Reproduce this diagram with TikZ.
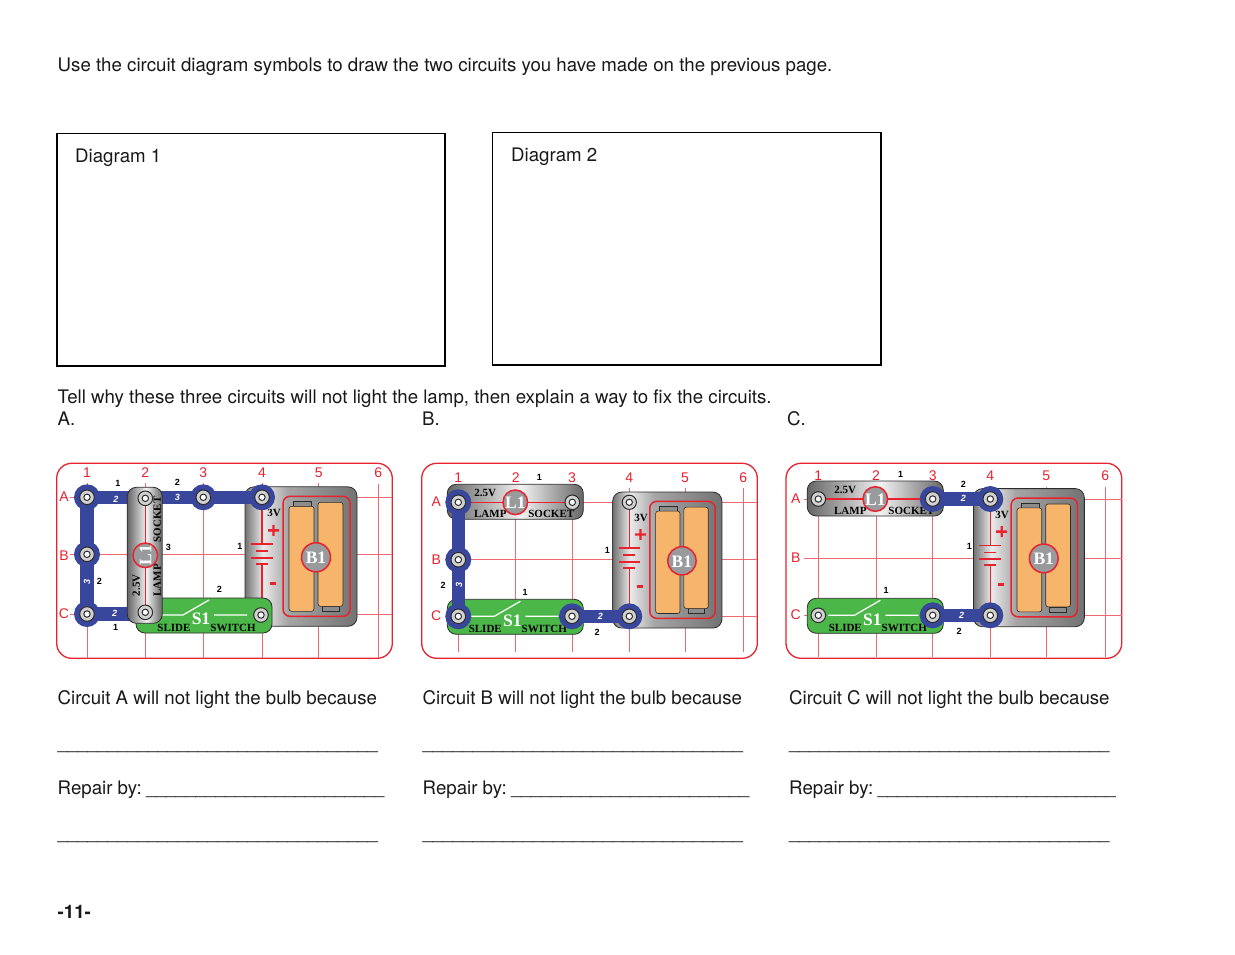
\documentclass[tikz,border=0pt]{standalone}
\usepackage{fontspec}
\setmainfont{TeX Gyre Heros}
\newfontfamily\serifb{Liberation Serif}[BoldFont={Liberation Serif Bold}]
\newfontfamily\sansb{Liberation Sans}
\definecolor{cred}{HTML}{E8222F}
\definecolor{gridred}{HTML}{EE6A72}
\definecolor{cblue}{HTML}{38469B}
\definecolor{cgreen}{HTML}{4BB748}
\definecolor{corange}{HTML}{F6B56A}
\definecolor{cgray}{HTML}{999A9C}
\definecolor{cedge}{HTML}{2B2B2B}
\pgfdeclarehorizontalshading{battshade}{100bp}{color(0bp)=(black!55);color(25bp)=(black!55);color(33bp)=(black!8);color(44bp)=(black!35);color(75bp)=(black!55);color(100bp)=(black!55)}
\pgfdeclarehorizontalshading{lampshade}{100bp}{color(0bp)=(black!60);color(25bp)=(black!60);color(52bp)=(black!5);color(75bp)=(black!60);color(100bp)=(black!60)}
\newcommand\usc[1]{{\fontsize{18}{20}\selectfont\foreach \i in {1,...,#1}{\_}}}
\newcommand\uscs{{\fontsize{17.85}{20}\selectfont\foreach \i in {1,...,24}{\_}}}
\tikzset{
  body/.style={anchor=base west,inner sep=0pt,font=\fontsize{18.68}{20}\selectfont,text=black!90},
  redlab/.style={inner sep=0pt,text=cred,font=\fontsize{14}{14}\selectfont\sansb},
  blklab/.style={inner sep=0pt,font=\fontsize{9}{9}\selectfont\sansb\bfseries},
  whtlab/.style={inner sep=0pt,text=white,font=\fontsize{9}{9}\selectfont\sansb\bfseries\itshape},
  serlab/.style={inner sep=0pt,font=\fontsize{11}{11}\selectfont\serifb\bfseries},
  bigser/.style={inner sep=0pt,text=white,font=\fontsize{17.5}{17.5}\selectfont\serifb\bfseries},
  gridline/.style={gridred,line width=1pt},
  frameline/.style={cred,line width=1.3pt,rounded corners=15pt},
  bluebar/.style={cblue,line width=13.5pt},
  boxline/.style={black,line width=1.3pt}
}
\newcommand\stud[2]{%
  \filldraw[fill=black!18,draw=cedge,line width=1pt] (#1,#2) circle (7.3);
  \filldraw[fill=white,draw=cedge,line width=1pt] (#1,#2) circle (3.2);}
\newcommand\snap[2]{%
  \fill[cblue] (#1,#2) circle (13);
  \stud{#1}{#2}}
% battery: #2,#3 = top terminal, #1 = scale
\newcommand\batt[3][1]{%
  \begin{scope}[shift={(#2,#3)},scale=#1]
    \draw[cedge,line width=0.8pt,rounded corners=9pt,shading=battshade] (-17,-10.5) rectangle (95,129);
    \draw[cred,line width=1.4pt] (0,0) -- (0,47) (0,67) -- (0,117);
    \draw[cred,line width=1.8pt] (-11,47) -- (11,47) (-6,54) -- (6,54) (-11,61) -- (11,61) (-6,67) -- (6,67);
    \node[serlab] at (12,16) {3V};
    \fill[cred] (6,31.8) rectangle (17,34.2) (10.3,27.5) rectangle (12.7,38.5);
    \fill[cred] (8,85) rectangle (14,87.5);
    \draw[cred,line width=1.5pt,rounded corners=7pt] (21,-1) rectangle (88,119);
    \draw[fill=black!45,draw=cedge,line width=0.6pt] (31,4) rectangle (49,9) (60,109) rectangle (77,114);
    \draw[fill=corange,draw=cedge,line width=0.6pt,rounded corners=2.5pt] (27,9) rectangle (52,114) (56,5) rectangle (81,109);
    \filldraw[fill=cgray,draw=cred,line width=1.5pt] (54,60) circle (14.5);
    \node[bigser] at (54,60.5) {B1};
    \stud{0}{0}
  \end{scope}}
% lamp socket: #1,#2 = first stud, #3 rotation
\newcommand\lamp[3]{%
  \begin{scope}[shift={(#1,#2)},rotate=#3,transform shape]
    \draw[cedge,line width=0.8pt,rounded corners=9pt,shading=lampshade] (-11,-18) rectangle (125,17);
    \draw[cred,line width=1.4pt] (0,0) -- (114,0);
    \node[serlab] at (27,-9) {2.5V};
    \node[serlab] at (32,12) {LAMP};
    \node[serlab] at (93,12) {SOCKET};
    \filldraw[fill=cgray,draw=cred,line width=1.5pt] (57,0) circle (12.3);
    \node[bigser] at (57,0.3) {L1};
    \stud{0}{0}
    \stud{114}{0}
  \end{scope}}
% slide switch: #1,#2 = first stud
\newcommand\slideswitch[2]{%
  \begin{scope}[shift={(#1,#2)}]
    \draw[cedge,line width=0.8pt,fill=cgreen,rounded corners=9pt] (-11,-17) rectangle (125,18);
    \draw[white,line width=1.2pt] (10,0) -- (36,0) -- (62,-15) (67,0) -- (100,0);
    \node[serlab] at (27,13) {SLIDE};
    \node[bigser] at (54,4) {S1};
    \node[serlab] at (86,13) {SWITCH};
    \stud{0}{0}
    \stud{114}{0}
  \end{scope}}
\begin{document}
\begin{tikzpicture}[x=1pt,y=-1pt]
\useasboundingbox (0,0) rectangle (1235,954);
\fill[white] (0,0) rectangle (1235,954);
% texts
\node[body] (intro) at (57.5,71) {Use the circuit diagram symbols to draw the two circuits you have made on the previous page.};
\draw[boxline] (57,133.5) rectangle (445,366);
\draw[boxline] (492.5,132.5) rectangle (881,365);
\node[body] (d1) at (75,162) {Diagram 1};
\node[body] (d2) at (511,161) {Diagram 2};
\node[body] (tell) at (57.5,403) {Tell why these three circuits will not light the lamp, then explain a way to fix the circuits.};
\node[body] (la) at (57.5,425) {A.};
\node[body] (lb) at (422,425) {B.};
\node[body] (lc) at (787,425) {C.};
\node[body] (ca) at (57.5,704) {Circuit A will not light the bulb because};
\node[body] (cb) at (422.5,704) {Circuit B will not light the bulb because};
\node[body] (cc) at (789,704) {Circuit C will not light the bulb because};
\foreach \x/\n in {57.5/a,422.5/b,789/c}{
  \node[body] (u1\n) at (\x,749) {\usc{32}};
  \node[body] (r\n) at (\x,794) {Repair by:\hspace{4.2pt}\uscs};
  \node[body] (u2\n) at (\x,839) {\usc{32}};
}
\node[body,font=\fontsize{18.68}{20}\selectfont\bfseries] (page) at (57.5,918) {-11-};
% ---------- panel A
\draw[frameline] (56.7,463.3) rectangle (392.3,658.3);
\foreach \x in {87,145.3,203.3,262,318.7} \draw[gridline] (\x,483) -- (\x,658.3);
\draw[gridline] (378.3,484) -- (378.3,658.3);
\foreach \y in {497.3,554.3,614} \draw[gridline] (70,\y) -- (392.3,\y);
\foreach \x/\t in {87/1,145.3/2,203.3/3,262/4,318.7/5,378.3/6} \node[redlab] at (\x,473) {\t};
\foreach \y/\t in {497/A,556/B,614/C} \node[redlab] at (64,\y) {\t};
\batt{262}{497.3}
\slideswitch{147}{615}
\draw[bluebar] (87,614) -- (87,497.3) -- (262,497.3);
\draw[bluebar] (87,614) -- (145,614);
\snap{87}{497.3}\snap{87}{554.3}\snap{87}{614}\snap{203.3}{497.3}\snap{262}{497.3}
\node[whtlab] at (116,499) {2};
\node[whtlab] at (177.3,497.7) {3};
\node[whtlab,rotate=90] at (87,581.7) {3};
\node[whtlab] at (114.7,613.3) {2};
\lamp{145.3}{612.3}{90}
\foreach \x/\y/\t in {118/483.3/1,177.3/482.3/2,168.3/547.3/3,240/546.7/1,99.3/581.7/2,219.3/589.3/2,115.7/627.7/1} \node[blklab] at (\x,\y) {\t};
% ---------- panel B
\draw[frameline] (421.7,463.3) rectangle (757.3,658.3);
\foreach \x in {458.3,515.7,572,629.3,685,743.3} \draw[gridline] (\x,488) -- (\x,651.7);
\foreach \y in {502.3,559.7,616.3} \draw[gridline] (445,\y) -- (757.3,\y);
\foreach \x/\t in {458.3/1,515.7/2,572/3,629.3/4,685/5,743.3/6} \node[redlab] at (\x,478) {\t};
\foreach \y/\t in {501.7/A,559.7/B,616/C} \node[redlab] at (436.3,\y) {\t};
\lamp{458.3}{502.3}{0}
\slideswitch{458.3}{616.3}
\batt[0.975]{629.3}{502.3}
\draw[bluebar] (458.3,502.3) -- (458.3,616.3);
\draw[bluebar] (572,616.3) -- (629.3,616.3);
\snap{458.3}{502.3}\snap{458.3}{559.7}\snap{458.3}{616.3}\snap{572}{616.3}\snap{629.3}{616.3}
\node[whtlab,rotate=90] at (459,585) {3};
\node[whtlab] at (600.3,616.7) {2};
\foreach \x/\y/\t in {539.3/477.3/1,607.3/550/1,443/585.7/2,525/592.3/1,597/632.7/2} \node[blklab] at (\x,\y) {\t};
% ---------- panel C
\draw[frameline] (786,463.3) rectangle (1121.7,658.3);
\foreach \x in {818.3,876,932.7,990.3,1046.3,1105.3} \draw[gridline] (\x,487) -- (\x,657);
\foreach \y in {499,558.3,615.3} \draw[gridline] (804,\y) -- (1121.7,\y);
\foreach \x/\t in {818.3/1,876/2,932.7/3,990.3/4,1046.3/5,1105.3/6} \node[redlab] at (\x,475.7) {\t};
\foreach \y/\t in {499/A,558/B,615/C} \node[redlab] at (795.7,\y) {\t};
\batt[0.99]{990.3}{499}
\lamp{818.3}{499}{0}
\slideswitch{818.3}{615.3}
\draw[bluebar] (932.7,499) -- (990.3,499);
\draw[bluebar] (932.7,615.3) -- (990.3,615.3);
\snap{932.7}{499}\snap{990.3}{499}\snap{932.7}{615.3}\snap{990.3}{615.3}
\node[whtlab] at (963.3,498.3) {2};
\node[whtlab] at (961.7,615) {2};
\foreach \x/\y/\t in {900.7/474/1,963.3/484.3/2,969.3/546.7/1,886/590/1,959/631/2} \node[blklab] at (\x,\y) {\t};
\end{tikzpicture}
\end{document}
